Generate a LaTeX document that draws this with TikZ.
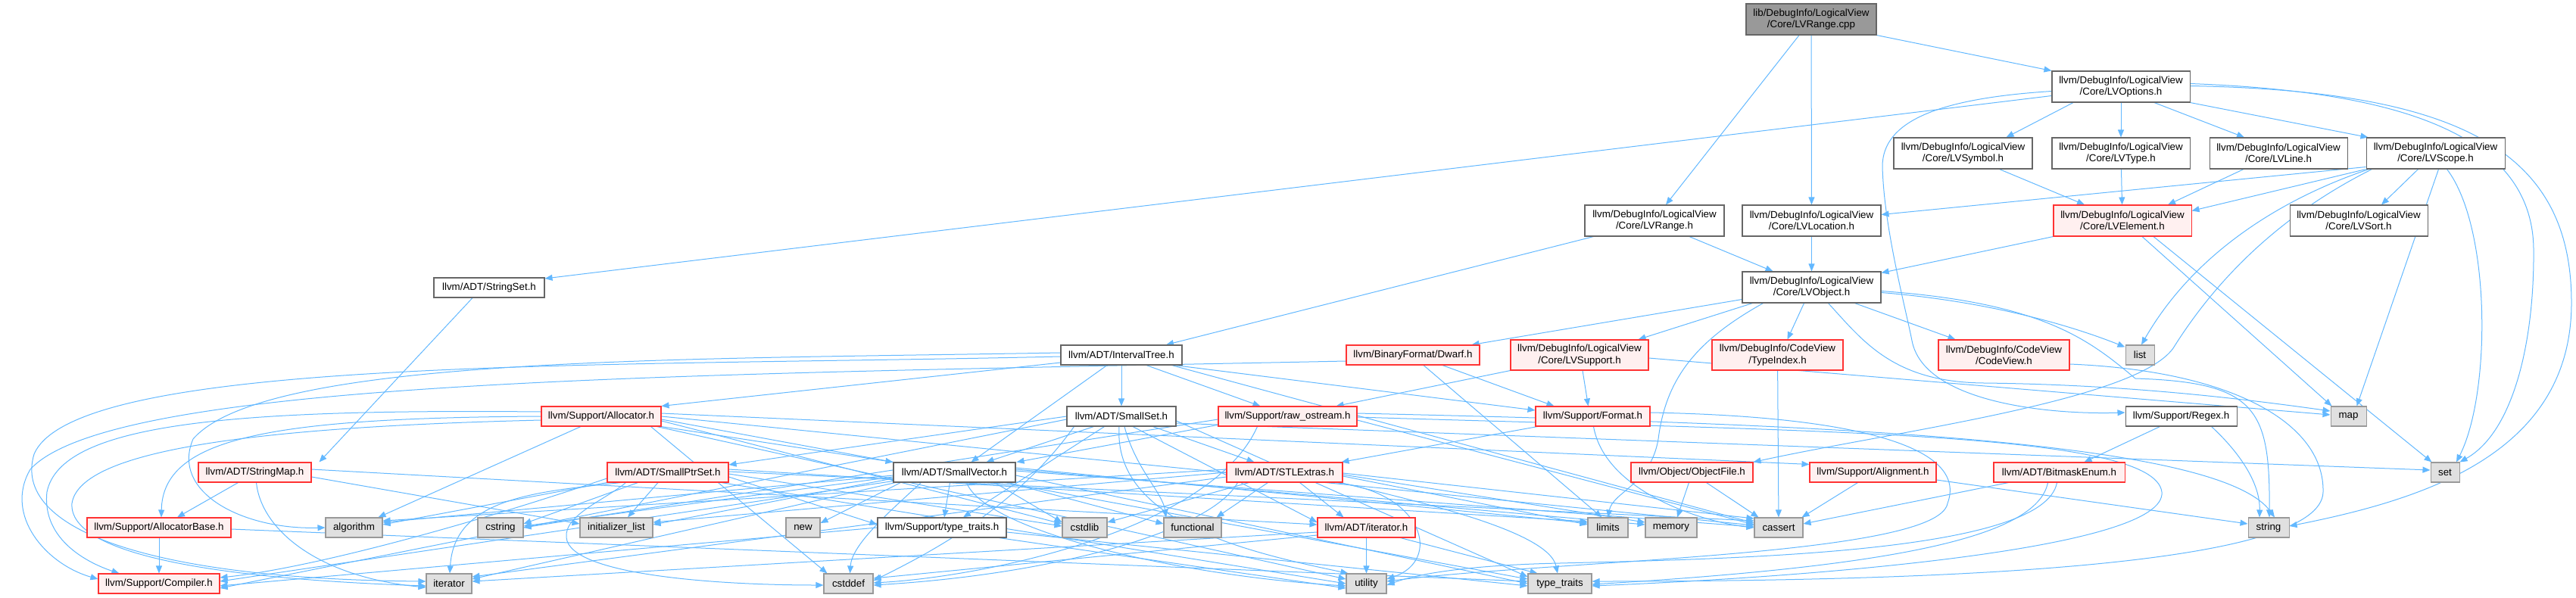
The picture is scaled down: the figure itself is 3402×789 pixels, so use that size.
\documentclass[tikz,border=0pt]{standalone}
\usepackage{fontspec}
\setmainfont{Liberation Sans}
\usetikzlibrary{arrows.meta,calc}
\definecolor{eb}{HTML}{63B8FF}
\definecolor{rfill}{HTML}{FFF0F0}
\definecolor{rbord}{HTML}{FF3333}
\definecolor{gfill}{HTML}{E0E0E0}
\definecolor{bord}{HTML}{666666}
\definecolor{gbord}{HTML}{999999}
\definecolor{rootfill}{HTML}{999999}
\pgfdeclarelayer{edges}
\pgfsetlayers{edges,main}
\newcommand\mknode[7]{\node[#1, minimum width={(#5-#4)*0.75pt}, minimum height={(#7-#6)*0.75pt}] (#2) at ({(#4+#5)/2},{(#6+#7)/2}) {#3};}
\tikzset{
  base/.style={rectangle, inner sep=0pt, align=center, font=\fontsize{10pt}{11.5pt}\selectfont, line width=0.8pt},
  wn/.style={base, draw=bord, fill=white},
  rn/.style={base, draw=rbord, fill=rfill},
  gn/.style={base, draw=gbord, fill=gfill},
  rootn/.style={base, draw=bord, fill=rootfill},
  e/.style={draw=eb, line width=0.75pt, -{Triangle[length=7.5pt,width=6pt]}}
}
\begin{document}
\begin{tikzpicture}[x=0.75pt,y=-0.75pt]
\useasboundingbox (0,0) rectangle (3402,789);
% ---------------- nodes
\mknode{rootn}{cpp}{lib/DebugInfo/LogicalView\\/Core/LVRange.cpp}{2306}{2478}{5}{46}
\mknode{wn}{opts}{llvm/DebugInfo/LogicalView\\/Core/LVOptions.h}{2710}{2892}{94}{135}
\mknode{wn}{sym}{llvm/DebugInfo/LogicalView\\/Core/LVSymbol.h}{2501}{2684}{182}{223}
\mknode{wn}{typ}{llvm/DebugInfo/LogicalView\\/Core/LVType.h}{2710}{2892}{182}{223}
\mknode{wn}{lin}{llvm/DebugInfo/LogicalView\\/Core/LVLine.h}{2918}{3100}{182}{223}
\mknode{wn}{scope}{llvm/DebugInfo/LogicalView\\/Core/LVScope.h}{3125}{3308}{182}{223}
\mknode{wn}{rng}{llvm/DebugInfo/LogicalView\\/Core/LVRange.h}{2093}{2277}{271}{312}
\mknode{wn}{loc}{llvm/DebugInfo/LogicalView\\/Core/LVLocation.h}{2301}{2484}{271}{312}
\mknode{rn}{elem}{llvm/DebugInfo/LogicalView\\/Core/LVElement.h}{2712}{2894}{271}{312}
\mknode{wn}{sort}{llvm/DebugInfo/LogicalView\\/Core/LVSort.h}{3024}{3206}{271}{312}
\mknode{wn}{obj}{llvm/DebugInfo/LogicalView\\/Core/LVObject.h}{2301}{2484}{359}{400}
\mknode{wn}{strset}{llvm/ADT/StringSet.h}{573}{719}{367}{393}
\mknode{wn}{itree}{llvm/ADT/IntervalTree.h}{1401}{1561}{456}{482}
\mknode{rn}{dwarf}{llvm/BinaryFormat/Dwarf.h}{1778}{1954}{456}{482}
\mknode{rn}{lvsup}{llvm/DebugInfo/LogicalView\\/Core/LVSupport.h}{1995}{2177}{449}{489}
\mknode{rn}{tidx}{llvm/DebugInfo/CodeView\\/TypeIndex.h}{2261}{2434}{449}{489}
\mknode{rn}{cv}{llvm/DebugInfo/CodeView\\/CodeView.h}{2560}{2733}{449}{489}
\mknode{gn}{nlist}{list}{2807}{2845}{456}{482}
\mknode{rn}{alloc}{llvm/Support/Allocator.h}{715}{873}{537}{563}
\mknode{wn}{sset}{llvm/ADT/SmallSet.h}{1409}{1553}{537}{563}
\mknode{rn}{raw}{llvm/Support/raw\_ostream.h}{1609}{1792}{537}{563}
\mknode{rn}{fmt}{llvm/Support/Format.h}{2028}{2179}{537}{563}
\mknode{wn}{regex}{llvm/Support/Regex.h}{2807}{2954}{537}{563}
\mknode{gn}{nmap}{map}{3078}{3125}{537}{563}
\mknode{rn}{smap}{llvm/ADT/StringMap.h}{262}{411}{611}{637}
\mknode{rn}{sps}{llvm/ADT/SmallPtrSet.h}{802}{962}{611}{637}
\mknode{wn}{svec}{llvm/ADT/SmallVector.h}{1180}{1341}{611}{637}
\mknode{rn}{stlx}{llvm/ADT/STLExtras.h}{1620}{1773}{611}{637}
\mknode{rn}{objf}{llvm/Object/ObjectFile.h}{2154}{2315}{611}{637}
\mknode{rn}{align}{llvm/Support/Alignment.h}{2390}{2557}{611}{637}
\mknode{rn}{bme}{llvm/ADT/BitmaskEnum.h}{2633}{2806}{611}{637}
\mknode{gn}{nset}{set}{3210}{3248}{611}{637}
\mknode{rn}{abase}{llvm/Support/AllocatorBase.h}{115}{305}{684}{710}
\mknode{gn}{algo}{algorithm}{430}{505}{684}{710}
\mknode{gn}{cstr}{cstring}{631}{691}{684}{710}
\mknode{gn}{ilist}{initializer\_list}{766}{862}{684}{710}
\mknode{gn}{nnew}{new}{1038}{1083}{684}{710}
\mknode{wn}{stt}{llvm/Support/type\_traits.h}{1159}{1329}{684}{710}
\mknode{gn}{cstdlib}{cstdlib}{1403}{1462}{684}{710}
\mknode{gn}{func}{functional}{1537}{1613}{684}{710}
\mknode{rn}{iterh}{llvm/ADT/iterator.h}{1740}{1869}{684}{710}
\mknode{gn}{limits}{limits}{2097}{2150}{684}{710}
\mknode{gn}{memory}{memory}{2173}{2241}{684}{710}
\mknode{gn}{cassert}{cassert}{2317}{2381}{684}{710}
\mknode{gn}{string}{string}{2969}{3023}{684}{710}
\mknode{rn}{comp}{llvm/Support/Compiler.h}{130}{290}{758}{784}
\mknode{gn}{iter}{iterator}{563}{623}{758}{784}
\mknode{gn}{cstddef}{cstddef}{1088}{1153}{758}{784}
\mknode{gn}{util}{utility}{1778}{1831}{758}{784}
\mknode{gn}{tt}{type\_traits}{2018}{2102}{758}{784}
% ---------------- edges
\begin{pgfonlayer}{edges}
% root
\draw[e] ($(cpp.south)+(-16,0)$) -- ($(rng.north)+(15,0)$);
\draw[e] (cpp) -- (loc);
\draw[e] (cpp.south east) -- (opts.north west);
% LVOptions
\draw[e] ($(opts.west)+(0,12)$) -- ($(strset.east)+(0,-12)$);
\draw[e] ($(opts.south)+(-63,0)$) -- ($(sym.north)+(57,0)$);
\draw[e] (opts) -- (typ);
\draw[e] ($(opts.south)+(44,0)$) -- ($(lin.north)+(-45,0)$);
\draw[e] (opts.south east) -- ($(scope.north west)+(3,0)$);
\draw[e] ($(opts.west)+(0,6)$) .. controls (2560,130) and (2486,160) .. (2486,220) .. controls (2488,300) and (2515,400) .. (2525,450) .. controls (2540,530) and (2700,548) .. ($(regex.west)+(0,-5)$);
\draw[e] ($(opts.east)+(0,-4)$) .. controls (3150,120) and (3345,170) .. (3346,330) .. controls (3347,450) and (3320,570) .. (nset.north east);
\draw[e] ($(opts.east)+(0,-1)$) .. controls (3250,120) and (3396,200) .. (3396,400) .. controls (3396,600) and (3200,660) .. ($(string.east)+(0,-2)$);
% to LVElement
\draw[e] ($(sym.south)+(48,0)$) -- ($(elem.north)+(-50,0)$);
\draw[e] (typ) -- (elem);
\draw[e] ($(lin.south)+(-46,0)$) -- ($(elem.north)+(60,0)$);
% LVScope
\draw[e] (scope.south west) -- ($(elem.east)+(0,-13)$);
\draw[e] ($(scope.south west)+(0,-3)$) -- ($(loc.east)+(0,-8)$);
\draw[e] ($(scope.south)+(-23,0)$) -- ($(sort.north)+(30,0)$);
\draw[e] ($(scope.south west)+(4,0)$) .. controls (3020,260) and (2900,330) .. ($(nlist.north)+(2,0)$);
\draw[e] ($(scope.south west)+(8,0)$) .. controls (3000,290) and (2920,380) .. (2870,460) .. controls (2820,530) and (2500,570) .. (objf.north east);
\draw[e] ($(scope.south)+(4,0)$) -- ($(nmap.north)+(11,0)$);
\draw[e] ($(scope.south)+(15,0)$) .. controls (3290,300) and (3290,520) .. ($(nset.north)+(15,0)$);
% LVElement
\draw[e] (elem.south west) -- ($(obj.north east)+(0,2)$);
\draw[e] ($(elem.south)+(26,0)$) -- ($(nmap.north west)+(2,0)$);
\draw[e] ($(elem.south)+(41,0)$) -- ($(nset.north west)+(2,0)$);
% LVRange.h, LVLocation
\draw[e] ($(rng.south)+(46,0)$) -- ($(obj.north west)+(41,0)$);
\draw[e] ($(rng.south west)+(12,0)$) -- ($(itree.north)+(59,0)$);
\draw[e] (loc) -- (obj);
% LVObject
\draw[e] ($(obj.south west)+(0,-5)$) -- ($(dwarf.north east)+(-11,0)$);
\draw[e] ($(obj.south west)+(14,0)$) -- ($(lvsup.north east)+(-14,0)$);
\draw[e] ($(obj.south west)+(28,0)$) .. controls (2240,450) and (2200,500) .. (2190,580) .. controls (2180,640) and (2130,650) .. (limits.north);
\draw[e] ($(obj.south)+(-10,0)$) -- ($(tidx.north)+(13,0)$);
\draw[e] ($(obj.south)+(57,0)$) -- ($(cv.north west)+(23,0)$);
\draw[e] ($(obj.east)+(0,7)$) .. controls (2650,400) and (2760,440) .. ($(nlist.north west)+(0,3)$);
\draw[e] ($(obj.south)+(22,0)$) .. controls (2460,450) and (2500,505) .. (2620,506) .. controls (2800,508) and (2950,525) .. ($(nmap.west)+(0,-7)$);
\draw[e] ($(obj.east)+(0,5)$) .. controls (2700,400) and (2760,450) .. (2820,500) .. controls (2980,505) and (2998,540) .. ($(string.north)+(1,0)$);
% TypeIndex, CodeView
\draw[e] (tidx) -- (cassert);
\draw[e] ($(cv.east)+(0,12)$) .. controls (2950,490) and (3070,560) .. (3068,650) .. controls (3066,745) and (2600,768) .. ($(tt.east)+(0,-3)$);
% Dwarf
\draw[e] ($(dwarf.south)+(39,0)$) -- ($(fmt.north west)+(25,0)$);
\draw[e] ($(dwarf.south)+(14,0)$) -- ($(limits.north)+(-8,0)$);
\draw[e] ($(dwarf.west)+(0,8)$) .. controls (900,495) and (150,500) .. (40,620) .. controls (5,680) and (60,745) .. ($(comp.west)+(0,-6)$);
% LVSupport
\draw[e] (lvsup.south west) -- ($(raw.north east)+(-28,0)$);
\draw[e] ($(lvsup.south)+(4,0)$) -- ($(fmt.north)+(-6,0)$);
\draw[e] ($(lvsup.east)+(0,4)$) -- ($(nmap.west)+(0,-2)$);
% IntervalTree
\draw[e] (itree) -- (sset);
\draw[e] ($(itree.south)+(-19,0)$) -- ($(svec.north)+(22,0)$);
\draw[e] ($(itree.south)+(33,0)$) -- ($(raw.north)+(-36,0)$);
\draw[e] ($(itree.south east)+(-10,0)$) -- ($(fmt.west)+(0,-8)$);
\draw[e] ($(itree.south east)+(-14,0)$) -- ($(cassert.west)+(0,-6)$);
\draw[e] ($(itree.west)+(0,10)$) -- (alloc.north east);
\draw[e] ($(itree.west)+(0,-3)$) .. controls (900,475) and (350,470) .. (255,580) .. controls (225,650) and (320,700) .. (algo.west);
\draw[e] ($(itree.west)+(0,2)$) .. controls (800,485) and (100,470) .. (45,600) .. controls (15,700) and (200,765) .. ($(iter.west)+(0,-3)$);
% Allocator
\draw[e] ($(alloc.south)+(-27,0)$) -- ($(algo.north)+(32,0)$);
\draw[e] (alloc.west) .. controls (350,552) and (215,580) .. ($(abase.north)+(3,0)$);
\draw[e] ($(alloc.west)+(0,-6)$) .. controls (300,540) and (80,560) .. (62,650) .. controls (55,715) and (120,745) .. ($(comp.north west)+(28,0)$);
\draw[e] ($(alloc.west)+(0,5)$) .. controls (300,565) and (105,600) .. (95,665) .. controls (90,735) and (300,765) .. ($(iter.west)+(0,3)$);
\draw[e] (alloc.south east) -- (svec.north west);
\draw[e] ($(alloc.east)+(0,-4)$) -- ($(align.north west)+(0,3)$);
\draw[e] (alloc.east) -- ($(cassert.west)+(0,-3)$);
\draw[e] ($(alloc.east)+(0,6)$) -- ($(cstdlib.west)+(0,-5)$);
\draw[e] ($(alloc.south east)+(-14,0)$) -- ($(cstddef.north west)+(5,0)$);
\draw[e] ($(alloc.east)+(0,4)$) -- ($(tt.west)+(0,-6)$);
\draw[e] ($(alloc.south east)+(-6,0)$) -- ($(util.west)+(0,-6)$);
% SmallPtrSet
\draw[e] ($(sps.south)+(-13,0)$) -- ($(ilist.north)+(15,0)$);
\draw[e] ($(sps.south west)+(41,0)$) -- ($(cstr.east)+(0,-5)$);
\draw[e] (sps.south west) -- ($(algo.east)+(0,-4)$);
\draw[e] ($(sps.south west)+(19,0)$) .. controls (700,650) and (600,660) .. ($(iter.north)+(1,0)$);
\draw[e] ($(sps.west)+(0,8)$) .. controls (600,700) and (400,752) .. ($(comp.east)+(0,-8)$);
\draw[e] ($(sps.south west)+(25,0)$) .. controls (800,660) and (745,680) .. (748,710) .. controls (752,760) and (950,773) .. ($(cstddef.west)+(0,2)$);
\draw[e] ($(sps.east)+(0,2)$) -- ($(cstdlib.west)+(0,-2)$);
\draw[e] ($(sps.east)+(0,-4)$) -- ($(limits.west)+(0,-8)$);
\draw[e] ($(sps.east)+(0,-1)$) -- ($(cassert.west)+(0,-9)$);
\draw[e] ($(sps.south east)+(-10,0)$) -- (util.west);
\draw[e] ($(sps.east)+(0,6)$) -- ($(stt.west)+(0,-4)$);
% StringSet, StringMap, AllocatorBase
\draw[e] ($(strset.south)+(-22,0)$) -- ($(smap.north)+(85,0)$);
\draw[e] ($(smap.south)+(-22,0)$) -- ($(abase.north)+(24,0)$);
\draw[e] ($(smap.south)+(2,0)$) .. controls (345,700) and (420,762) .. ($(iter.west)+(0,5)$);
\draw[e] ($(smap.east)+(0,6)$) -- ($(ilist.west)+(0,-5)$);
\draw[e] ($(smap.east)+(0,-4)$) -- ($(iterh.west)+(0,-4)$);
\draw[e] (abase) -- (comp);
\draw[e] ($(abase.east)+(0,2)$) -- ($(tt.west)+(0,-3)$);
% SmallVector
\draw[e] ($(svec.south)+(-6,0)$) -- ($(stt.north)+(3,0)$);
\draw[e] ($(svec.south east)+(-28,0)$) -- ($(cstdlib.west)+(0,-7)$);
\draw[e] ($(svec.south east)+(-10,0)$) -- ($(func.west)+(0,-5)$);
\draw[e] ($(svec.west)+(0,4)$) -- ($(algo.east)+(0,-7)$);
\draw[e] ($(svec.west)+(0,6)$) -- ($(cstr.east)+(0,-2)$);
\draw[e] ($(svec.west)+(0,8)$) -- ($(ilist.east)+(0,-4)$);
\draw[e] ($(svec.south west)+(10,0)$) -- ($(nnew.east)+(0,-6)$);
\draw[e] ($(svec.south west)+(37,0)$) .. controls (1170,680) and (1125,720) .. ($(cstddef.north)+(2,0)$);
\draw[e] ($(svec.south west)+(3,0)$) -- ($(iter.east)+(0,-6)$);
\draw[e] ($(svec.south west)+(0,-2)$) -- ($(comp.east)+(0,-3)$);
\draw[e] ($(svec.east)+(0,-6)$) -- ($(limits.west)+(0,-6)$);
\draw[e] ($(svec.east)+(0,-4)$) -- ($(memory.west)+(0,-4)$);
\draw[e] ($(svec.east)+(0,-2)$) -- ($(cassert.west)+(0,-1)$);
\draw[e] ($(svec.east)+(0,4)$) -- (tt.west);
\draw[e] ($(svec.south)+(16,0)$) .. controls (1300,700) and (1550,760) .. ($(util.west)+(0,3)$);
% llvm/Support/type_traits.h
\draw[e] (stt.west) -- ($(comp.east)+(0,3)$);
\draw[e] ($(stt.east)+(0,6)$) -- ($(tt.west)+(0,3)$);
\draw[e] ($(stt.south east)+(-10,0)$) -- ($(util.west)+(0,6)$);
% SmallSet
\draw[e] (sset.west) -- ($(sps.east)+(0,-10)$);
\draw[e] ($(sset.south west)+(36,0)$) -- ($(svec.north)+(42,0)$);
\draw[e] ($(sset.south east)+(-31,0)$) -- ($(stlx.north)+(-40,0)$);
\draw[e] ($(sset.south)+(15,0)$) -- ($(iterh.west)+(0,-7)$);
\draw[e] ($(sset.south west)+(50,0)$) -- ($(stt.north)+(28,0)$);
\draw[e] ($(sset.south)+(4,0)$) .. controls (1500,620) and (1535,650) .. ($(func.north)+(-35,0)$);
\draw[e] ($(sset.south west)+(10,0)$) .. controls (1350,660) and (1250,720) .. ($(cstddef.east)+(0,-4)$);
\draw[e] ($(sset.south)+(-3,0)$) .. controls (1470,690) and (1650,730) .. ($(util.north west)+(3,0)$);
\draw[e] ($(sset.east)+(0,6)$) -- ($(tt.west)+(0,-9)$);
\draw[e] ($(sset.east)+(0,9)$) -- ($(nset.west)+(0,-3)$);
\draw[e] ($(sset.west)+(0,4)$) -- ($(comp.east)+(0,6)$);
% raw_ostream
\draw[e] ($(raw.south west)+(4,-3)$) -- ($(svec.north east)+(1,0)$);
\draw[e] ($(raw.east)+(0,5)$) -- ($(cassert.west)+(0,-4)$);
\draw[e] ($(raw.west)+(0,4)$) -- (cstr.east);
\draw[e] ($(raw.south)+(-40,0)$) .. controls (1600,700) and (1300,762) .. ($(cstddef.east)+(0,-1)$);
\draw[e] ($(raw.east)+(0,-4)$) .. controls (2400,560) and (2930,580) .. ($(string.north)+(8,0)$);
\draw[e] ($(raw.east)+(0,1)$) .. controls (2400,570) and (2845,570) .. (2855,650) .. controls (2862,725) and (2400,762) .. ($(tt.east)+(0,3)$);
% Format
\draw[e] ($(fmt.south west)+(3,0)$) -- ($(stlx.north east)+(-2,0)$);
\draw[e] ($(fmt.south)+(1,0)$) .. controls (2120,650) and (2250,690) .. (cassert.west);
\draw[e] ($(fmt.east)+(0,-5)$) .. controls (2450,550) and (2600,590) .. (2572,665) .. controls (2560,735) and (2050,740) .. ($(util.east)+(0,-3)$);
% iterator.h
\draw[e] (iterh) -- (util);
\draw[e] ($(iterh.south east)+(-20,0)$) -- ($(tt.north west)+(13,0)$);
\draw[e] ($(iterh.west)+(0,6)$) -- ($(iter.east)+(0,-3)$);
\draw[e] ($(iterh.west)+(0,10)$) -- ($(cstddef.east)+(0,-7)$);
% STLExtras
\draw[e] ($(stlx.south)+(20,0)$) -- ($(iterh.north)+(-30,0)$);
\draw[e] ($(stlx.south west)+(30,0)$) -- ($(cstdlib.east)+(0,-7)$);
\draw[e] ($(stlx.south west)+(55,0)$) -- ($(func.north east)+(-7,0)$);
\draw[e] ($(stlx.west)+(0,-4)$) -- ($(algo.east)+(0,-9)$);
\draw[e] (stlx.west) -- ($(ilist.east)+(0,-7)$);
\draw[e] ($(stlx.south west)+(15,0)$) .. controls (1600,700) and (1400,758) .. ($(cstddef.east)+(0,2)$);
\draw[e] ($(stlx.west)+(0,6)$) -- ($(iter.east)+(0,-9)$);
\draw[e] ($(stlx.south east)+(-10,0)$) .. controls (1880,650) and (1905,740) .. ($(util.east)+(0,-6)$);
\draw[e] ($(stlx.south east)+(-3,0)$) .. controls (1860,660) and (2045,700) .. ($(tt.north)+(-3,0)$);
\draw[e] ($(stlx.east)+(0,5)$) -- ($(limits.west)+(0,-4)$);
\draw[e] ($(stlx.east)+(0,3)$) -- ($(memory.west)+(0,-7)$);
\draw[e] ($(stlx.east)+(0,1)$) -- ($(cassert.west)+(0,-12)$);
% Regex
\draw[e] ($(regex.south)+(-28,0)$) -- ($(bme.north east)+(-54,0)$);
\draw[e] ($(regex.south east)+(-34,0)$) .. controls (2960,600) and (2985,640) .. ($(string.north)+(-12,0)$);
% BitmaskEnum
\draw[e] ($(bme.south west)+(20,0)$) -- ($(cassert.east)+(0,-5)$);
\draw[e] ($(bme.south)+(-15,0)$) .. controls (2690,710) and (2500,748) .. ($(tt.east)+(0,1)$);
\draw[e] ($(bme.south)+(-3,0)$) .. controls (2700,730) and (2300,738) .. (2060,744) .. controls (1960,746) and (1880,755) .. ($(util.east)+(0,2)$);
% Alignment, ObjectFile
\draw[e] ($(align.south)+(-20,0)$) -- ($(cassert.north east)+(-2,0)$);
\draw[e] ($(align.east)+(0,10)$) -- ($(string.west)+(0,-5)$);
\draw[e] ($(objf.south west)+(77,0)$) -- ($(memory.north)+(8,0)$);
\draw[e] ($(objf.south west)+(100,0)$) -- ($(cassert.north west)+(6,0)$);
\end{pgfonlayer}
\end{tikzpicture}
\end{document}
